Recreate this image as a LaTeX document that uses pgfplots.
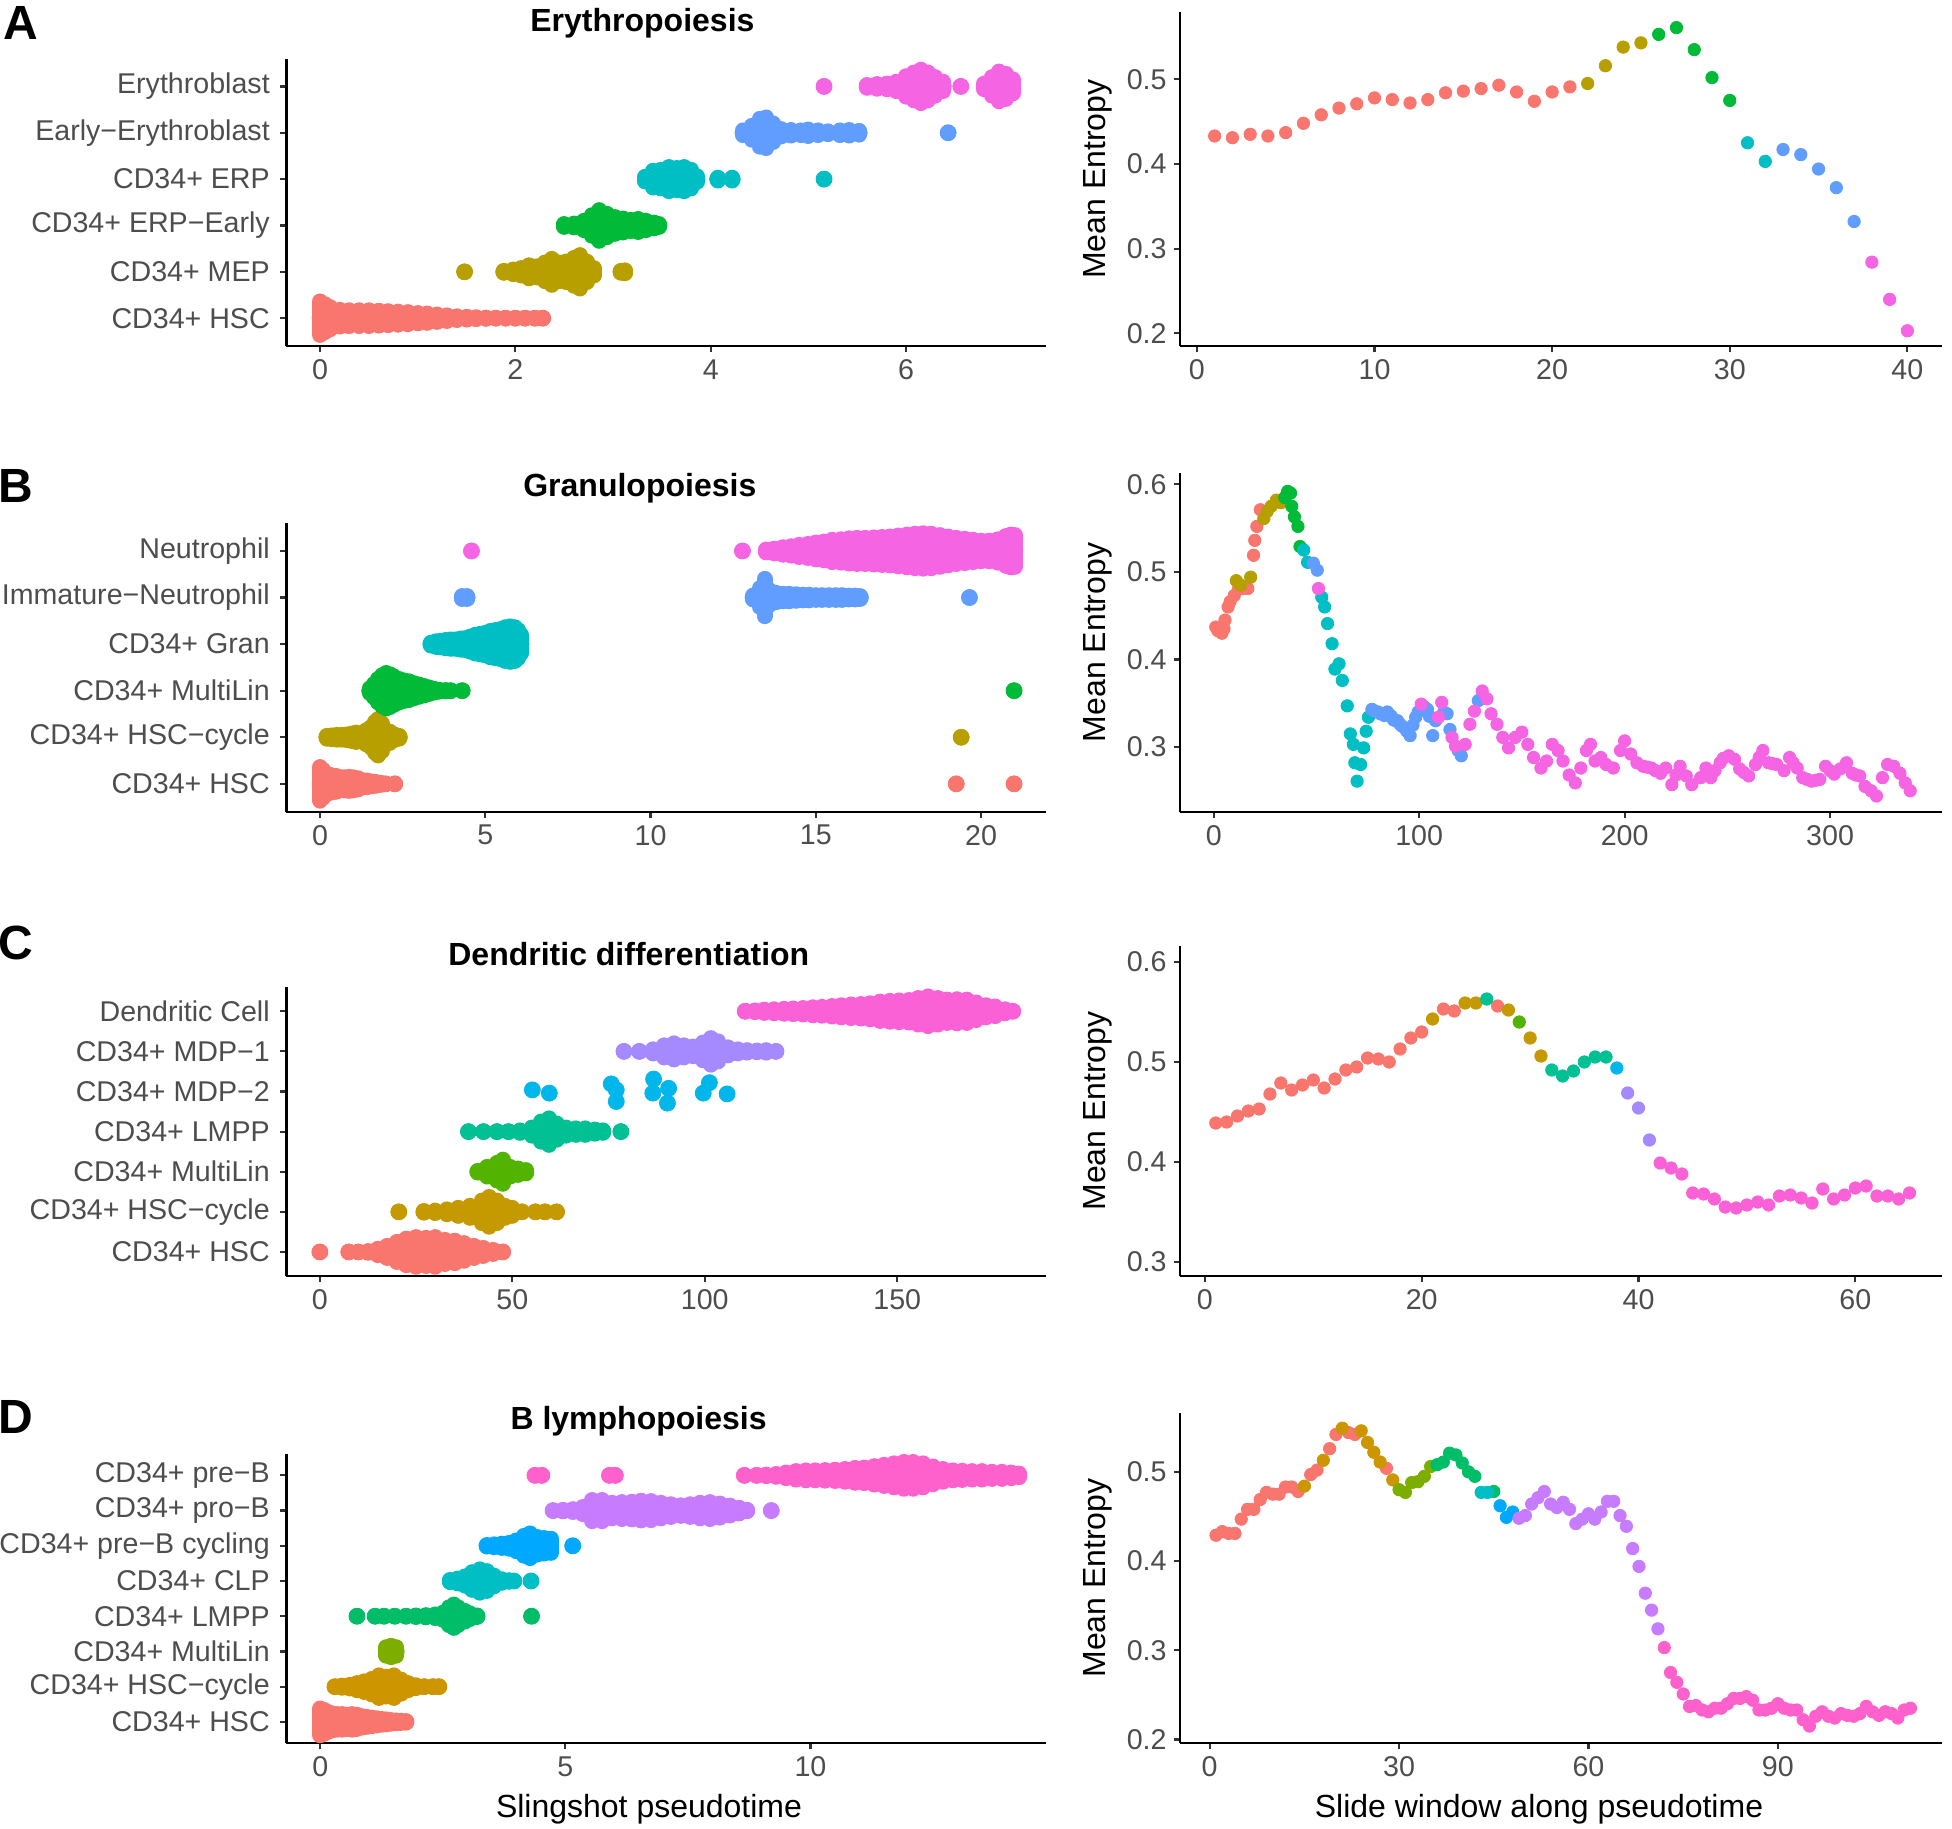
\documentclass[border=0pt]{standalone}
\usepackage{pgfplots}
\pgfplotsset{compat=1.18}
\usepackage{fontspec}
\setmainfont{Liberation Sans}
\definecolor{tickgray}{HTML}{4D4D4D}
% 6-class palette
\definecolor{h1}{HTML}{F8766D}\definecolor{h2}{HTML}{B79F00}\definecolor{h3}{HTML}{00BA38}
\definecolor{h4}{HTML}{00BFC4}\definecolor{h5}{HTML}{619CFF}\definecolor{h6}{HTML}{F564E3}
% 7-class palette
\definecolor{c1}{HTML}{F8766D}\definecolor{c2}{HTML}{C49A00}\definecolor{c3}{HTML}{53B400}
\definecolor{c4}{HTML}{00C094}\definecolor{c5}{HTML}{00B6EB}\definecolor{c6}{HTML}{A58AFF}\definecolor{c7}{HTML}{FB61D7}
% 8-class palette
\definecolor{d1}{HTML}{F8766D}\definecolor{d2}{HTML}{CD9600}\definecolor{d3}{HTML}{7CAE00}\definecolor{d4}{HTML}{00BE67}
\definecolor{d5}{HTML}{00BFC4}\definecolor{d6}{HTML}{00A9FF}\definecolor{d7}{HTML}{C77CFF}\definecolor{d8}{HTML}{FF61CC}
\pgfplotsset{
  base/.style={scale only axis, clip=false, anchor=south west,
    axis lines=left, axis line style={-, line width=1.1pt, black},
    tick align=outside, major tick length=3.2pt,
    major tick style={line width=1.1pt, black!80},
    tick label style={font=\fontsize{14.3}{16.5}\selectfont, text=tickgray},
    /pgf/number format/assume math mode=true, minor tick num=0},
  lp/.style={base, width=379.7pt, height=144.4pt, ymin=0.4, yticklabel style={xshift=-1.6pt}},
  rp/.style={base, width=381pt, y tick label style={/pgf/number format/fixed, /pgf/number format/fixed zerofill, /pgf/number format/precision=1}},
  sw/.style={only marks, mark=*, mark size=4pt, color=#1,
    error bars/y dir=both, error bars/y explicit, error bars/error mark=none,
    error bars/error bar style={line width=8pt, line cap=round, color=#1}},
  dt/.style={only marks, mark=*, mark size=4pt, color=#1},
  pt/.style={only marks, mark=*, mark size=3.1pt, color=#1},
}
\begin{document}
\begin{tikzpicture}
\path[use as bounding box] (0,0) rectangle (976pt,914pt);
% ---------------- labels ----------------
\node[font=\bfseries\fontsize{24}{28}\selectfont] at (10.3pt,902.5pt) {A};
\node[font=\bfseries\fontsize{24}{28}\selectfont] at (8pt,671pt) {B};
\node[font=\bfseries\fontsize{24}{28}\selectfont] at (8pt,442.7pt) {C};
\node[font=\bfseries\fontsize{24}{28}\selectfont] at (8pt,205.5pt) {D};
\node[font=\bfseries\fontsize{16}{19}\selectfont] at (321.2pt,902.5pt) {Erythropoiesis};
\node[font=\bfseries\fontsize{16}{19}\selectfont] at (319.9pt,669.8pt) {Granulopoiesis};
\node[font=\bfseries\fontsize{16}{19}\selectfont] at (314.4pt,437pt) {Dendritic differentiation};
\node[font=\bfseries\fontsize{16}{19}\selectfont] at (319.3pt,203.6pt) {B lymphopoiesis};
\node[font=\fontsize{16}{19}\selectfont] at (324.5pt,9.5pt) {Slingshot pseudotime};
\node[font=\fontsize{16}{19}\selectfont] at (769.5pt,9.5pt) {Slide window along pseudotime};
\node[rotate=90,font=\fontsize{16}{19}\selectfont] at (549pt,824.4pt) {Mean Entropy};
\node[rotate=90,font=\fontsize{16}{19}\selectfont] at (549pt,592.8pt) {Mean Entropy};
\node[rotate=90,font=\fontsize{16}{19}\selectfont] at (549pt,358.5pt) {Mean Entropy};
\node[rotate=90,font=\fontsize{16}{19}\selectfont] at (549pt,125pt) {Mean Entropy};

% ================= A left =================
\begin{axis}[lp, at={(143.2pt,741pt)}, height=143.7pt, xmin=-0.344, xmax=7.43, ymax=6.6,
  xtick={0,2,4,6}, ytick={1,2,3,4,5,6},
  yticklabels={CD34+ HSC, CD34+ MEP, CD34+ ERP−Early, CD34+ ERP, Early−Erythroblast, Erythroblast}]
\addplot[sw=h1] table[row sep=\\, x=x, y expr=1, y error=h] {x h\\ 0 0.36\\ 0.05 0.3\\ 0.1 0.24\\ 0.2 0.18\\ 0.3 0.17\\ 0.4 0.17\\ 0.5 0.17\\ 0.6 0.16\\ 0.7 0.15\\ 0.8 0.14\\ 0.9 0.13\\ 1.0 0.11\\ 1.1 0.1\\ 1.2 0.08\\ 1.3 0.06\\ 1.4 0.04\\ 1.5 0.03\\ 1.6 0.02\\ 1.7 0.01\\ 1.8 0\\ 1.9 0\\ 2.0 0\\ 2.1 0\\ 2.2 0\\ 2.28 0\\};
\addplot[sw=h2] table[row sep=\\, x=x, y expr=2, y error=h] {x h\\ 1.48 0\\ 1.88 0.02\\ 1.98 0.05\\ 2.06 0.08\\ 2.14 0.14\\ 2.22 0.12\\ 2.3 0.2\\ 2.37 0.28\\ 2.45 0.2\\ 2.52 0.22\\ 2.6 0.3\\ 2.66 0.36\\ 2.73 0.22\\ 2.8 0.08\\ 3.08 0.02\\ 3.12 0.03\\};
\addplot[sw=h3] table[row sep=\\, x=x, y expr=3, y error=h] {x h\\ 2.5 0.03\\ 2.6 0.04\\ 2.7 0.1\\ 2.78 0.22\\ 2.86 0.33\\ 2.94 0.25\\ 3.02 0.18\\ 3.1 0.15\\ 3.18 0.12\\ 3.26 0.14\\ 3.34 0.1\\ 3.42 0.06\\ 3.47 0.03\\};
\addplot[sw=h4] table[row sep=\\, x=x, y expr=4, y error=h] {x h\\ 3.33 0.05\\ 3.41 0.18\\ 3.49 0.2\\ 3.57 0.26\\ 3.65 0.24\\ 3.73 0.26\\ 3.8 0.2\\ 3.86 0.06\\ 4.07 0.03\\ 4.22 0.03\\ 5.16 0\\};
\addplot[sw=h5] table[row sep=\\, x=x, y expr=5, y error=h] {x h\\ 4.33 0.05\\ 4.42 0.15\\ 4.5 0.3\\ 4.57 0.33\\ 4.64 0.2\\ 4.72 0.08\\ 4.82 0.06\\ 4.92 0.05\\ 5.0 0.07\\ 5.1 0.05\\ 5.2 0.03\\ 5.32 0.05\\ 5.42 0.06\\ 5.52 0.04\\ 6.43 0\\};
\addplot[sw=h6] table[row sep=\\, x=x, y expr=6, y error=h] {x h\\ 5.16 0\\ 5.6 0.03\\ 5.7 0.05\\ 5.8 0.06\\ 5.9 0.1\\ 6.0 0.22\\ 6.08 0.3\\ 6.15 0.36\\ 6.22 0.3\\ 6.3 0.2\\ 6.38 0.1\\ 6.56 0\\ 6.8 0.06\\ 6.88 0.2\\ 6.95 0.32\\ 7.02 0.27\\ 7.09 0.15\\};
\end{axis}

% ================= A right =================
\begin{axis}[rp, at={(590pt,741pt)}, height=166.8pt, xmin=-0.95, xmax=41.95, ymin=0.185, ymax=0.579,
  xtick={0,10,20,30,40}, ytick={0.2,0.3,0.4,0.5}]
\addplot[pt=h1] coordinates {(1,0.433)(2,0.431)(3,0.435)(4,0.433)(5,0.437)(6,0.448)(7,0.458)(8,0.466)(9,0.471)(10,0.478)(11,0.476)(12,0.472)(13,0.476)(14,0.484)(15,0.486)(16,0.489)(17,0.493)(18,0.485)(19,0.474)(20,0.485)(21,0.491)};
\addplot[pt=h2] coordinates {(22,0.495)(23,0.516)(24,0.538)(25,0.543)};
\addplot[pt=h3] coordinates {(26,0.553)(27,0.561)(28,0.535)(29,0.502)(30,0.475)};
\addplot[pt=h4] coordinates {(31,0.425)(32,0.403)};
\addplot[pt=h5] coordinates {(33,0.417)(34,0.411)(35,0.394)(36,0.372)(37,0.332)};
\addplot[pt=h6] coordinates {(38,0.284)(39,0.240)(40,0.203)};
\end{axis}

% ================= B left =================
\begin{axis}[lp, at={(143.2pt,508.1pt)}, xmin=-1.02, xmax=21.96, ymax=6.6,
  xtick={0,5,10,15,20}, ytick={1,2,3,4,5,6},
  yticklabels={CD34+ HSC, CD34+ HSC−cycle, CD34+ MultiLin, CD34+ Gran, Immature−Neutrophil, Neutrophil}]
\addplot[sw=h1] table[row sep=\\, x=x, y expr=1, y error=h] {x h\\ 0 0.36\\ 0.08 0.3\\ 0.16 0.22\\ 0.26 0.2\\ 0.36 0.18\\ 0.48 0.17\\ 0.6 0.14\\ 0.72 0.14\\ 0.86 0.15\\ 1.0 0.14\\ 1.14 0.12\\ 1.28 0.08\\ 1.42 0.07\\ 1.56 0.05\\ 1.7 0.04\\ 1.84 0.02\\ 1.98 0\\ 2.26 0\\ 19.25 0\\ 21.0 0\\};
\addplot[sw=h2] table[row sep=\\, x=x, y expr=2, y error=h] {x h\\ 0.2 0.03\\ 0.35 0.04\\ 0.5 0.05\\ 0.65 0.05\\ 0.8 0.06\\ 0.95 0.08\\ 1.1 0.1\\ 1.25 0.08\\ 1.4 0.15\\ 1.55 0.22\\ 1.66 0.33\\ 1.76 0.39\\ 1.86 0.3\\ 1.98 0.15\\ 2.1 0.12\\ 2.25 0.06\\ 2.4 0.03\\ 19.4 0\\};
\addplot[sw=h3] table[row sep=\\, x=x, y expr=3, y error=h] {x h\\ 1.5 0.05\\ 1.62 0.14\\ 1.75 0.25\\ 1.88 0.33\\ 2.0 0.38\\ 2.12 0.35\\ 2.25 0.3\\ 2.4 0.25\\ 2.55 0.22\\ 2.7 0.2\\ 2.85 0.16\\ 3.0 0.13\\ 3.15 0.1\\ 3.3 0.07\\ 3.45 0.04\\ 3.6 0.02\\ 3.8 0.01\\ 3.95 0\\ 4.3 0\\ 21.0 0\\};
\addplot[sw=h4] table[row sep=\\, x=x, y expr=4, y error=h] {x h\\ 3.35 0.03\\ 3.5 0.06\\ 3.65 0.07\\ 3.8 0.09\\ 3.95 0.1\\ 4.1 0.1\\ 4.25 0.12\\ 4.4 0.13\\ 4.55 0.16\\ 4.7 0.2\\ 4.85 0.22\\ 5.0 0.24\\ 5.15 0.28\\ 5.3 0.3\\ 5.45 0.32\\ 5.6 0.36\\ 5.75 0.38\\ 5.9 0.36\\ 6.0 0.3\\ 6.08 0.2\\};
\addplot[sw=h5] table[row sep=\\, x=x, y expr=5, y error=h] {x h\\ 4.3 0.03\\ 4.45 0.03\\ 13.1 0.04\\ 13.3 0.2\\ 13.45 0.4\\ 13.6 0.15\\ 13.8 0.1\\ 14.0 0.08\\ 14.2 0.08\\ 14.4 0.07\\ 14.6 0.06\\ 14.8 0.06\\ 15.0 0.05\\ 15.2 0.05\\ 15.4 0.05\\ 15.6 0.05\\ 15.8 0.05\\ 16.0 0.04\\ 16.2 0.04\\ 16.35 0.03\\ 19.65 0\\};
\addplot[sw=h6] table[row sep=\\, x=x, y expr=6, y error=h] {x h\\ 4.58 0\\ 12.78 0\\ 13.5 0.03\\ 13.75 0.05\\ 14.0 0.08\\ 14.25 0.1\\ 14.5 0.13\\ 14.75 0.15\\ 15.0 0.18\\ 15.25 0.2\\ 15.5 0.24\\ 15.75 0.25\\ 16.0 0.27\\ 16.25 0.28\\ 16.5 0.28\\ 16.75 0.29\\ 17.0 0.3\\ 17.25 0.31\\ 17.5 0.33\\ 17.75 0.35\\ 18.0 0.37\\ 18.25 0.38\\ 18.5 0.37\\ 18.75 0.34\\ 19.0 0.31\\ 19.25 0.28\\ 19.5 0.26\\ 19.75 0.24\\ 20.0 0.22\\ 20.25 0.22\\ 20.5 0.25\\ 20.75 0.32\\ 20.9 0.35\\ 21.02 0.34\\};
\end{axis}

% ================= B right =================
\begin{axis}[rp, at={(590pt,508.1pt)}, height=169.4pt, xmin=-16.4, xmax=354.5, ymin=0.226, ymax=0.613,
  xtick={0,100,200,300}, ytick={0.3,0.4,0.5,0.6}]
\addplot[pt=h1] coordinates {(1,0.437)(2,0.433)(3,0.432)(4,0.430)(5,0.435)(5.5,0.445)(7,0.46)(8,0.466)(10,0.473)(12,0.48)(14,0.481)(16.6,0.481)(19.4,0.519)(20,0.536)(21,0.552)(22.7,0.571)};
\addplot[pt=h2] coordinates {(11,0.49)(13,0.485)(18,0.494)(24.4,0.561)(26,0.569)(28,0.575)(30.5,0.582)(32.7,0.579)};
\addplot[pt=h3] coordinates {(34.6,0.585)(36,0.592)(37.4,0.59)(38,0.575)(39.3,0.563)(41,0.552)(42,0.529)};
\addplot[pt=h4] coordinates {(43.8,0.525)(45.7,0.511)(52.6,0.471)(54,0.46)(55.4,0.441)(57.6,0.418)(59,0.389)(61,0.395)(62.6,0.376)(65,0.347)(66.5,0.315)(68,0.303)(68.7,0.282)(69.8,0.261)(71.5,0.28)(73,0.299)(74.2,0.318)(75.3,0.334)};
\addplot[pt=h5] coordinates {(48.5,0.51)(50.4,0.502)(77,0.343)(78.5,0.341)(80,0.34)(81,0.338)(82,0.338)(83,0.336)(84.5,0.34)(85.5,0.337)(86.5,0.335)(87.5,0.331)(88.6,0.33)(89.5,0.33)(90.7,0.326)(91.5,0.324)(92.8,0.322)(94,0.318)(95.6,0.313)(97,0.325)(98.3,0.334)(99.5,0.34)(102.5,0.346)(104,0.343)(105,0.335)(106.6,0.313)(108,0.33)(112,0.34)(113.6,0.338)(115,0.32)(119,0.296)(120.5,0.29)(128.8,0.353)};
\addplot[pt=h6] coordinates {(51,0.481)(101,0.349)(109.4,0.334)(111,0.351)(116,0.311)(117.7,0.301)(122.4,0.303)(124.7,0.326)(126.9,0.341)(130.7,0.364)(133,0.355)(135,0.338)(137.9,0.326)(140.7,0.311)(143.5,0.299)(146.8,0.311)(150,0.317)(152.9,0.303)(155.7,0.288)(159.3,0.276)(162,0.284)(164.8,0.303)(167.6,0.296)(170,0.284)(173,0.268)(176,0.259)(178.7,0.276)(181.4,0.296)(183.4,0.303)(185.6,0.284)(188.4,0.288)(191,0.28)(194.5,0.276)(198,0.296)(200,0.307)(203,0.292)(206,0.282)(209,0.278)(211,0.277)(213,0.276)(215,0.273)(217.5,0.27)(220,0.276)(223,0.257)(225,0.268)(227,0.278)(230,0.267)(232.7,0.257)(237,0.265)(239.6,0.276)(242,0.265)(244,0.273)(246.5,0.282)(248,0.287)(250.7,0.29)(253.5,0.286)(256,0.275)(258,0.271)(260.4,0.267)(263.7,0.28)(265.5,0.288)(267.3,0.296)(270,0.282)(272,0.281)(274,0.28)(277.6,0.273)(280.3,0.288)(282,0.282)(284,0.276)(286.7,0.265)(288.8,0.263)(290.9,0.261)(293,0.262)(295,0.263)(297.8,0.278)(300,0.273)(302,0.269)(305,0.275)(308,0.282)(310.8,0.27)(312.6,0.268)(314.4,0.267)(317,0.255)(320,0.25)(322.6,0.244)(325.5,0.265)(328,0.28)(331,0.278)(334,0.27)(336.6,0.259)(339,0.25)};
\end{axis}

% ================= C left =================
\begin{axis}[lp, at={(143.2pt,276pt)}, xmin=-8.7, xmax=188.6, ymax=7.6,
  xtick={0,50,100,150}, ytick={1,2,3,4,5,6,7},
  yticklabels={CD34+ HSC, CD34+ HSC−cycle, CD34+ MultiLin, CD34+ LMPP, CD34+ MDP−2, CD34+ MDP−1, Dendritic Cell}]
\addplot[sw=c1] table[row sep=\\, x=x, y expr=1, y error=h] {x h\\ 0 0\\ 7.5 0\\ 10 0\\ 12.5 0.02\\ 15 0.08\\ 17.5 0.15\\ 20 0.25\\ 22.5 0.33\\ 25 0.37\\ 27.5 0.35\\ 30 0.37\\ 32.5 0.3\\ 35 0.28\\ 37.5 0.22\\ 40 0.15\\ 42.5 0.1\\ 45 0.05\\ 47.5 0\\};
\addplot[sw=c2] table[row sep=\\, x=x, y expr=2, y error=h] {x h\\ 20.5 0\\ 27 0.02\\ 30 0.03\\ 33 0.06\\ 36 0.1\\ 39 0.15\\ 42 0.28\\ 44 0.37\\ 46 0.28\\ 48 0.15\\ 50 0.1\\ 52.5 0\\ 56 0\\ 58.5 0\\ 61.5 0\\};
\addplot[sw=c3] table[row sep=\\, x=x, y expr=3, y error=h] {x h\\ 41 0.02\\ 43.5 0.12\\ 46 0.22\\ 47.5 0.3\\ 49.5 0.12\\ 51.5 0.08\\ 53.5 0.04\\};
\addplot[sw=c4] table[row sep=\\, x=x, y expr=4, y error=h] {x h\\ 38.6 0\\ 42.5 0\\ 46 0\\ 49 0\\ 52 0.03\\ 55 0.1\\ 57.5 0.25\\ 59.5 0.33\\ 61.5 0.2\\ 64 0.1\\ 66.5 0.08\\ 69 0.08\\ 71.5 0.05\\ 73.5 0.03\\ 78.2 0\\};
\addplot[dt=c5] coordinates {(55.2,5.04)(59.6,4.96)(75.7,5.19)(77,5.04)(77,4.75)(86.7,5.31)(86.5,4.96)(90.6,5.08)(90.3,4.71)(101.2,5.22)(99.6,4.96)(105.8,4.94)};
\addplot[sw=c6] table[row sep=\\, x=x, y expr=6, y error=h] {x h\\ 79 0\\ 83 0\\ 86.5 0.05\\ 89.5 0.15\\ 92 0.2\\ 94.5 0.15\\ 97 0.12\\ 99.5 0.22\\ 101.5 0.33\\ 103.5 0.25\\ 106 0.1\\ 108.5 0.05\\ 111 0.03\\ 113.5 0.02\\ 116 0.03\\ 118.5 0\\};
\addplot[sw=c7] table[row sep=\\, x=x, y expr=7, y error=h] {x h\\ 110.5 0\\ 113 0.02\\ 115.5 0.04\\ 118 0.05\\ 120.5 0.06\\ 123 0.07\\ 125.5 0.08\\ 128 0.1\\ 130.5 0.11\\ 133 0.13\\ 135.5 0.15\\ 138 0.17\\ 140.5 0.18\\ 143 0.2\\ 145.5 0.24\\ 148 0.26\\ 150.5 0.27\\ 153 0.28\\ 155.5 0.33\\ 158 0.37\\ 160.5 0.33\\ 163 0.29\\ 165.5 0.3\\ 168 0.29\\ 170.5 0.22\\ 173 0.15\\ 175.5 0.12\\ 178 0.05\\ 180 0\\};
\end{axis}

% ================= C right =================
\begin{axis}[rp, at={(590pt,276pt)}, height=165pt, xmin=-2.3, xmax=68, ymin=0.286, ymax=0.616,
  xtick={0,20,40,60}, ytick={0.3,0.4,0.5,0.6}]
\addplot[pt=c1] coordinates {(1,0.439)(2,0.440)(3,0.446)(4,0.451)(5,0.453)(6,0.468)(7,0.479)(8,0.472)(9,0.477)(10,0.482)(11,0.474)(12,0.483)(13,0.492)(14,0.495)(15,0.504)(16,0.503)(17,0.500)(18,0.513)(19,0.524)(20,0.530)(22,0.553)(23,0.551)(27,0.556)};
\addplot[pt=c2] coordinates {(21,0.543)(24,0.559)(25,0.559)(28,0.552)(30,0.524)(31,0.506)};
\addplot[pt=c3] coordinates {(29,0.540)};
\addplot[pt=c4] coordinates {(26,0.563)(32,0.492)(33,0.486)(34,0.491)(35,0.500)(36,0.505)(37,0.505)};
\addplot[pt=c5] coordinates {(38,0.494)};
\addplot[pt=c6] coordinates {(39,0.469)(40,0.454)(41,0.422)};
\addplot[pt=c7] coordinates {(42,0.399)(43,0.394)(44,0.388)(45,0.369)(46,0.368)(47,0.363)(48,0.355)(49,0.354)(50,0.357)(51,0.360)(52,0.357)(53,0.366)(54,0.367)(55,0.364)(56,0.359)(57,0.373)(58,0.363)(59,0.367)(60,0.374)(61,0.376)(62,0.366)(63,0.366)(64,0.363)(65,0.369)};
\end{axis}

% ================= D left =================
\begin{axis}[lp, at={(143.2pt,42.5pt)}, xmin=-0.69, xmax=14.8, ymax=8.6,
  xtick={0,5,10}, ytick={1,2,3,4,5,6,7,8},
  yticklabels={CD34+ HSC, CD34+ HSC−cycle, CD34+ MultiLin, CD34+ LMPP, CD34+ CLP, CD34+ pre−B cycling, CD34+ pro−B, CD34+ pre−B}]
\addplot[sw=d1] table[row sep=\\, x=x, y expr=1, y error=h] {x h\\ 0 0.38\\ 0.08 0.34\\ 0.16 0.28\\ 0.25 0.24\\ 0.35 0.22\\ 0.45 0.22\\ 0.55 0.2\\ 0.65 0.22\\ 0.75 0.2\\ 0.85 0.16\\ 0.95 0.14\\ 1.05 0.12\\ 1.15 0.1\\ 1.25 0.08\\ 1.35 0.07\\ 1.45 0.05\\ 1.55 0.04\\ 1.65 0.03\\ 1.75 0.02\\};
\addplot[sw=d2] table[row sep=\\, x=x, y expr=2, y error=h] {x h\\ 0.3 0\\ 0.45 0.03\\ 0.6 0.05\\ 0.75 0.1\\ 0.9 0.15\\ 1.05 0.22\\ 1.2 0.32\\ 1.35 0.28\\ 1.5 0.32\\ 1.65 0.2\\ 1.8 0.1\\ 1.95 0.04\\ 2.12 0\\ 2.3 0\\ 2.42 0\\};
\addplot[sw=d3] table[row sep=\\, x=x, y expr=3, y error=h] {x h\\ 1.35 0.12\\ 1.45 0.16\\ 1.55 0.12\\};
\addplot[sw=d4] table[row sep=\\, x=x, y expr=4, y error=h] {x h\\ 0.75 0\\ 1.12 0\\ 1.3 0\\ 1.52 0\\ 1.75 0\\ 1.95 0.02\\ 2.15 0.03\\ 2.35 0.05\\ 2.5 0.1\\ 2.62 0.25\\ 2.72 0.33\\ 2.82 0.25\\ 2.95 0.15\\ 3.05 0.08\\ 3.2 0.02\\ 4.31 0\\};
\addplot[sw=d5] table[row sep=\\, x=x, y expr=5, y error=h] {x h\\ 2.65 0.03\\ 2.8 0.07\\ 2.95 0.13\\ 3.1 0.25\\ 3.25 0.33\\ 3.4 0.28\\ 3.55 0.15\\ 3.7 0.05\\ 3.85 0.02\\ 3.95 0\\ 4.3 0\\};
\addplot[sw=d6] table[row sep=\\, x=x, y expr=6, y error=h] {x h\\ 3.4 0.02\\ 3.55 0.04\\ 3.7 0.06\\ 3.85 0.08\\ 4.0 0.15\\ 4.15 0.28\\ 4.28 0.35\\ 4.42 0.25\\ 4.56 0.22\\ 4.7 0.2\\ 5.15 0\\};
\addplot[sw=d7] table[row sep=\\, x=x, y expr=7, y error=h] {x h\\ 4.75 0\\ 4.95 0.02\\ 5.15 0.04\\ 5.35 0.1\\ 5.55 0.3\\ 5.75 0.3\\ 5.95 0.22\\ 6.15 0.24\\ 6.35 0.25\\ 6.55 0.28\\ 6.75 0.27\\ 6.95 0.22\\ 7.15 0.18\\ 7.35 0.15\\ 7.55 0.18\\ 7.75 0.22\\ 7.95 0.24\\ 8.15 0.2\\ 8.35 0.14\\ 8.55 0.08\\ 8.7 0.02\\ 9.2 0\\};
\addplot[sw=d8] table[row sep=\\, x=x, y expr=8, y error=h] {x h\\ 4.38 0\\ 4.52 0\\ 5.9 0\\ 6.02 0\\ 8.65 0\\ 8.9 0\\ 9.1 0.02\\ 9.3 0.04\\ 9.5 0.08\\ 9.7 0.12\\ 9.9 0.14\\ 10.1 0.14\\ 10.3 0.15\\ 10.5 0.16\\ 10.7 0.18\\ 10.9 0.21\\ 11.1 0.22\\ 11.3 0.26\\ 11.5 0.3\\ 11.7 0.34\\ 11.9 0.38\\ 12.1 0.38\\ 12.3 0.34\\ 12.5 0.25\\ 12.7 0.18\\ 12.9 0.14\\ 13.1 0.13\\ 13.3 0.12\\ 13.5 0.12\\ 13.7 0.1\\ 13.9 0.1\\ 14.1 0.08\\ 14.25 0.05\\};
\end{axis}

% ================= D right =================
\begin{axis}[rp, at={(590pt,42.5pt)}, height=165pt, xmin=-4.7, xmax=116, ymin=0.196, ymax=0.566,
  xtick={0,30,60,90}, ytick={0.2,0.3,0.4,0.5}]
\addplot[pt=d1] coordinates {(1,0.429)(2,0.433)(3,0.431)(4,0.431)(5,0.447)(6,0.458)(7,0.458)(8,0.469)(9,0.477)(10,0.475)(11,0.475)(12,0.483)(13,0.483)(14,0.478)(16,0.497)(17,0.502)(19,0.526)(20,0.542)(22,0.544)(23,0.542)(28,0.504)};
\addplot[pt=d2] coordinates {(15,0.484)(18,0.513)(21,0.549)(24,0.546)(25,0.533)(26,0.522)(27,0.511)(29,0.491)};
\addplot[pt=d3] coordinates {(30,0.480)(31,0.477)(32,0.488)(33,0.489)(34,0.495)(35,0.506)};
\addplot[pt=d4] coordinates {(36,0.508)(37,0.511)(38,0.521)(39,0.519)(40,0.510)(41,0.500)(42,0.495)(45,0.478)};
\addplot[pt=d5] coordinates {(43,0.477)(44,0.477)};
\addplot[pt=d6] coordinates {(46,0.462)(47,0.449)(48,0.455)};
\addplot[pt=d7] coordinates {(49,0.448)(50,0.451)(51,0.464)(52,0.471)(53,0.478)(54,0.464)(55,0.460)(56,0.466)(57,0.458)(58,0.442)(59,0.447)(60,0.453)(61,0.447)(62,0.455)(63,0.467)(64,0.467)(65,0.451)(66,0.439)(67,0.414)(68,0.394)(69,0.364)(70,0.345)(71,0.324)};
\addplot[pt=d8] coordinates {(72,0.303)(73,0.275)(74,0.264)(75,0.251)(76,0.237)(77,0.238)(78,0.233)(79,0.231)(80,0.235)(81,0.235)(82,0.240)(83,0.246)(84,0.246)(85,0.248)(86,0.244)(87,0.233)(88,0.233)(89,0.235)(90,0.240)(91,0.235)(92,0.233)(93,0.233)(94,0.222)(95,0.215)(96,0.226)(97,0.231)(98,0.226)(99,0.224)(100,0.229)(101,0.227)(102,0.226)(103,0.229)(104,0.237)(105,0.231)(106,0.227)(107,0.231)(108,0.229)(109,0.224)(110,0.233)(111,0.235)};
\end{axis}
\end{tikzpicture}
\end{document}
